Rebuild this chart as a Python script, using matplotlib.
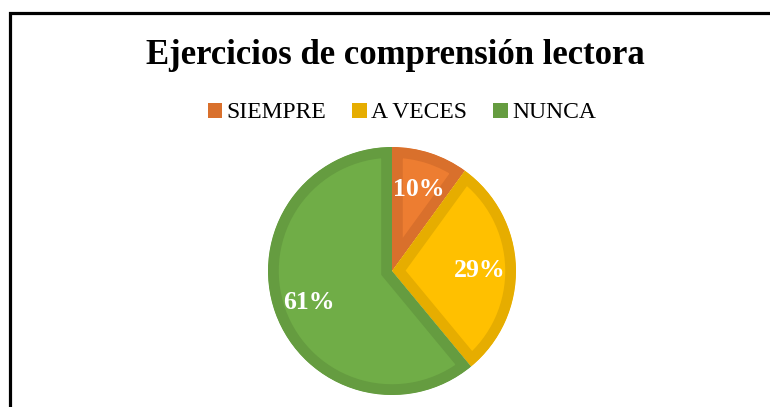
import matplotlib.pyplot as plt
from matplotlib.patches import Rectangle, Patch
from matplotlib.transforms import offset_copy

# Data
labels = ['SIEMPRE', 'A VECES', 'NUNCA']
values = [10, 29, 61]
fill_colors = ['#ED7D31', '#FFC000', '#70AD47']
edge_colors = ['#D9702C', '#E6AD00', '#659C40']
title = 'Ejercicios de comprensión lectora'

W, H = 770, 407
fig = plt.figure(figsize=(W / 100, H / 100), dpi=100)
fig.patch.set_facecolor('white')

# chart frame (only top/left visible, rest cropped)
fig.patches.append(Rectangle((10 / W, -0.1), 1.2, (H - 13) / H + 0.1,
                             transform=fig.transFigure, fill=False,
                             edgecolor='black', linewidth=2.3, zorder=0))

# pie axes: center (392, 271) px, radius 124 px
cx, cy, r = 392, 271, 124
ax = fig.add_axes([(cx - r) / W, (H - cy - r) / H, 2 * r / W, 2 * r / H])

wedges, texts, autotexts = ax.pie(
    values, colors=fill_colors, startangle=90, counterclock=False,
    radius=1.0, autopct='%d%%', pctdistance=0.71,
    wedgeprops=dict(linewidth=15.5, edgecolor='none'),
    textprops=dict(color='white', fontsize=18.5, fontweight='bold',
                   family='Liberation Serif'))
ax.set_xlim(-1, 1)
ax.set_ylim(-1, 1)
ax.axis('off')

# border only on the inside of each slice
for w, ec in zip(wedges, edge_colors):
    w.set_edgecolor(ec)
    w.set_clip_on(True)
    w.set_clip_path(w)

# nudge labels down a bit (text box includes descent)
for t in autotexts:
    t.set_transform(offset_copy(ax.transData, fig=fig, x=0, y=-2, units='dots'))

fig.text(395 / W, 1 - 55 / H, title, ha='center', va='center',
         fontsize=25, fontweight='bold', family='Liberation Serif')

handles = [Patch(facecolor=c, edgecolor='none') for c in edge_colors]
fig.legend(handles, labels, loc='center', bbox_to_anchor=(402 / W, 1 - 113 / H),
           ncol=3, frameon=False, handlelength=0.6, handleheight=0.6,
           handletextpad=0.2, columnspacing=1.1,
           prop=dict(family='Liberation Serif', size=17))

fig.savefig('out.png', dpi=100)
